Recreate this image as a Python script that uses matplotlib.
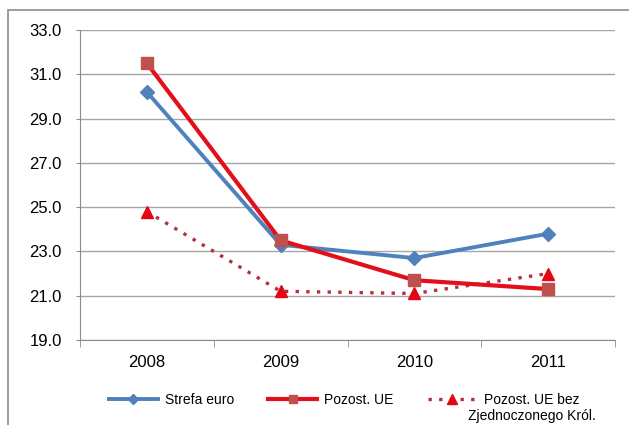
import matplotlib.pyplot as plt
from matplotlib.patches import Rectangle
from matplotlib.ticker import FormatStrFormatter, FixedLocator

plt.rcParams['font.family'] = ['Liberation Sans', 'DejaVu Sans']

years = ['2008', '2009', '2010', '2011']
strefa_euro = [30.2, 23.3, 22.7, 23.8]
pozost_ue = [31.5, 23.5, 21.7, 21.3]
pozost_bez_uk = [24.8, 21.2, 21.1, 22.0]

fig = plt.figure(figsize=(6.29, 4.25), dpi=100)
ax = fig.add_axes([80 / 629, 1 - 340 / 425, 535 / 629, 310 / 425])

# ramka wokół wykresu
fig.patches.append(Rectangle((8 / 629, -0.1), 1.2, 1 - 10 / 425 + 0.1,
                             transform=fig.transFigure, fill=False,
                             edgecolor='#8c8c8c', linewidth=1.2))

x = list(range(len(years)))
ax.plot(x, strefa_euro, color='#4f81bd', linewidth=2.8, marker='D',
        markersize=7, markerfacecolor='#4f81bd', markeredgecolor='#4f81bd',
        label='Strefa euro', zorder=3)
ax.plot(x, pozost_ue, color='#e3101c', linewidth=3.0, marker='s',
        markersize=8, markerfacecolor='#c0504d', markeredgecolor='#c0504d',
        label='Pozost. UE', zorder=4)
ax.plot(x, pozost_bez_uk, color='#b5303a', linewidth=2.4, linestyle=(0, (1, 2.2)),
        marker='^', markersize=9, markerfacecolor='#e30613',
        markeredgecolor='#e30613', label='Pozost. UE bez', zorder=2)

ax.set_xlim(-0.5, 3.5)
ax.set_ylim(19, 33)
ax.set_yticks([19, 21, 23, 25, 27, 29, 31, 33])
ax.yaxis.set_major_formatter(FormatStrFormatter('%.1f'))
ax.set_xticks(x)
ax.set_xticklabels(years)
ax.xaxis.set_minor_locator(FixedLocator([-0.5, 0.5, 1.5, 2.5, 3.5]))
ax.tick_params(axis='x', which='major', length=0, pad=11, labelsize=12)
ax.tick_params(axis='x', which='minor', length=5, color='#8c8c8c')
ax.tick_params(axis='y', length=3, color='#8c8c8c', labelsize=12, pad=10)

ax.grid(axis='y', color='#a6a6a6', linewidth=1)
ax.set_axisbelow(True)
for s in ['top', 'right']:
    ax.spines[s].set_visible(False)
for s in ['left', 'bottom']:
    ax.spines[s].set_color('#8c8c8c')

leg = fig.legend(loc='center', bbox_to_anchor=(0.547, 25 / 425), ncol=3,
                 frameon=False, fontsize=10, handlelength=3.5,
                 columnspacing=2.5, handletextpad=0.5, markerscale=0.75)

# druga linia opisu trzeciej serii, wyśrodkowana pod pierwszą
fig.canvas.draw()
t3 = leg.get_texts()[2]
bb = t3.get_window_extent().transformed(fig.transFigure.inverted())
fig.text((bb.x0 + bb.x1) / 2, bb.y0 - 2 / 425, 'Zjednoczonego Król.',
         fontsize=10, ha='center', va='top')

fig.savefig('out.png', dpi=100)
